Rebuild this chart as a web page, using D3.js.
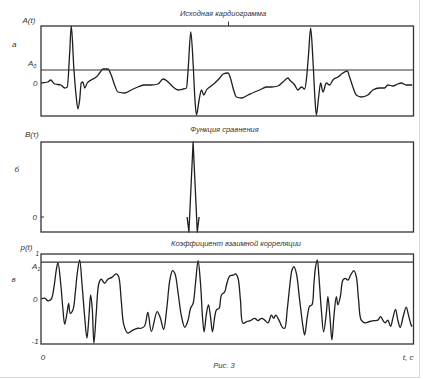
<!DOCTYPE html>
<html>
<head>
<meta charset="utf-8">
<script src="https://cdn.jsdelivr.net/npm/d3@7"></script>
<style>
  body { margin: 0; background: #fff; }
  svg text { font-family: "Liberation Sans", Arial, sans-serif; font-style: italic; fill: #333; }
</style>
</head>
<body>
<svg width="423" height="379"></svg>
<script>
// ---- data (t in plot units 0..373) ----
// a: original cardiogram
var ecgT = [0.3, 7, 9.7, 13.7, 20, 23.7, 26.3, 28.7, 30.3, 33, 35.3, 37, 38.7, 40.3, 42, 43.7, 46.3,
  50.3, 55.3, 58.7, 62, 67, 70.3, 73.7, 77, 83.7, 90.3, 97, 103.7, 110.3, 117, 122.3, 127.3, 132.3,
  137.3, 142.3, 145.7, 147.3, 150, 152.3, 154, 155.7, 158.3, 160.7, 163, 165.7, 169, 174, 179, 182.3,
  187.3, 189.7, 192.3, 195.7, 200.7, 207.3, 214, 219, 225.7, 230.7, 237.3, 242.3, 247.3, 249, 254,
  257.3, 260.7, 264, 265.7, 268, 270, 272.3, 274, 275.7, 278, 280, 282.3, 285.7, 289, 292.3, 297.3,
  302.3, 306.7, 309, 312.3, 315.7, 320.7, 327.3, 332.3, 339, 344, 347.3, 352.3, 357.3, 360.7, 365.7, 371.7];
var ecgV = [0, 1, 3, -1, -2, -5, -4, 30, 57, 13, -14, -26, -17, 0, 1, -5, 0,
  3, 6, 10, 14, 14, 8, -2, -9, -10, -7, -4, -2, -2, -1, 4, 1, -4,
  -7, -6, -5, 13, 51, 20, -14, -32, -17, -7, -12, -7, -4, 0, 5, 9,
  10, 5, -5, -14, -15, -12, -9, -7, -4, -4, -3, 1, 5, 3, -2,
  -7, -4, -6, 3, 30, 55, 23, -10, -32, -14, 0, -9, 0, -2, 3, 6,
  10, 12, 6, -4, -12, -14, -12, -7, -5, -5, -2, -3, -1, 0, -2, -2];
var A0 = 13;

// б: comparison function
var cmpT = [146.3, 148.1, 152.3, 156.5, 158.3];
var cmpV = [0, -15, 75, -15, 0];

// в: cross-correlation coefficient
var corT = [0.3, 3.7, 7, 10.3, 13, 15.3, 17, 19.7, 22, 23.7, 26, 27.7, 29.3, 32, 34.3, 36.3, 38.7,
  41, 43.7, 46, 48, 49.7, 51.3, 53, 55.3, 58, 60.3, 63.7, 67, 71, 75.3, 77.7, 80.3, 83, 87, 92, 97,
  100.3, 103.7, 107, 110.5, 116.3, 119.5, 122.8, 126, 129, 131.7, 134, 137.3, 140.7, 144, 147.3,
  149.7, 152.3, 154.7, 157.3, 159.7, 161.7, 163.3, 165.7, 167.7, 169.7, 171.7, 174, 175.7, 178.3,
  180.7, 184, 185.7, 189, 192.3, 195, 197.3, 199.7, 202.3, 206.3, 209.7, 214, 217.3, 220.7, 224,
  227.3, 230.7, 233, 235, 238.3, 241.7, 244, 246.5, 249, 251.3, 253.3, 255.7, 259, 262.3, 264,
  266.7, 269, 271.3, 273.3, 275, 276.7, 278.3, 280.7, 283, 285.7, 287.3, 289.3, 291.3, 293.3, 295.7,
  297.3, 299.7, 302.3, 304.7, 307.3, 310, 313.3, 315.7, 318, 320.7, 324.7, 329, 333.3, 337.3, 340,
  342.3, 344.7, 347.3, 350, 352.3, 355, 357.3, 359.7, 362.7, 365.7, 368, 370.7, 371.7];
var corV = [0, 0.02, -0.04, 0, 0.27, 0.64, 0.81, 0.35, -0.24, -0.56, -0.32, -0.1, -0.32, -0.24, 0.13, 0.57, 0.87,
  0.35, -0.39, -0.87, -0.39, 0.09, -0.21, -0.98, -0.32, 0.35, 0.44, 0.35, 0.44, 0.48, 0.56, 0.5, -0.02, -0.58, -0.76, -0.69, -0.65,
  -0.65, -0.6, -0.3, -0.72, -0.28, -0.42, -0.68, -0.2, 0.42, 0.63, 0.57, 0.13, -0.39, -0.63, -0.47,
  -0.21, -0.1, 0.35, 0.85, 0.35, -0.39, -0.73, -0.32, -0.13, -0.39, -0.73, -0.39, -0.24, -0.21,
  0.09, 0.16, 0.31, 0.51, 0.53, 0.56, 0.46, -0.02, -0.54, -0.5, -0.48, -0.43, -0.48, -0.43, -0.47,
  -0.53, -0.36, -0.43, -0.36, -0.47, -0.63, -0.65, -0.25, 0.27, 0.64, 0.72, 0.57, -0.02, -0.61, -0.8,
  -0.39, -0.16, -0.13, 0.35, 0.72, 0.87, 0.5, -0.24, -0.73, -0.32, 0.05, -0.39, -0.91, -0.39, 0.05,
  -0.13, 0.05, 0.42, 0.46, 0.42, 0.53, 0.63, 0.5, -0.02, -0.47, -0.53, -0.5, -0.48, -0.47, -0.39,
  -0.47, -0.53, -0.47, -0.61, -0.43, -0.23, -0.47, -0.63, -0.39, -0.18, -0.36, -0.58, -0.61];
var A1 = 0.82;

var titles = ["Исходная кардиограмма", "Функция сравнения", "Коэффициент взаимной корреляции"];

var svg = d3.select("svg");

// light page border on right and bottom
svg.append("line").attr("x1", 419.5).attr("x2", 419.5).attr("y1", 0).attr("y2", 377)
  .attr("stroke", "#d9d9d9");
svg.append("line").attr("x1", 0).attr("x2", 420).attr("y1", 377.5).attr("y2", 377.5)
  .attr("stroke", "#d9d9d9");

// shared time scale
var x = d3.scaleLinear().domain([0, 373]).range([41, 413.5]);

function zip(t, v) { return t.map(function(d, i) { return [d, v[i]]; }); }

function panel(top, bottom, domain, t, v, curve) {
  var y = d3.scaleLinear().domain(domain).range([bottom, top]);
  var line = d3.line()
    .x(function(d) { return x(d[0]); })
    .y(function(d) { return y(d[1]); })
    .curve(curve);
  svg.append("path")
    .datum(zip(t, v))
    .attr("d", line)
    .attr("fill", "none")
    .attr("stroke", "#1e1e1e")
    .attr("stroke-width", 1.3)
    .attr("stroke-linejoin", "round");
  svg.append("rect")
    .attr("x", x(0)).attr("y", top)
    .attr("width", x(373) - x(0)).attr("height", bottom - top)
    .attr("fill", "none").attr("stroke", "#333").attr("stroke-width", 1.3);
  return y;
}

function label(px, py, str, size, anchor) {
  return svg.append("text").attr("x", px).attr("y", py)
    .attr("font-size", size || 8)
    .attr("text-anchor", anchor || "start")
    .text(str);
}

// ---- panel a ----
var ya = panel(26, 116, [-33, 57], ecgT, ecgV, d3.curveMonotoneX);
svg.append("line").attr("x1", x(0)).attr("x2", x(373))
  .attr("y1", ya(A0)).attr("y2", ya(A0)).attr("stroke", "#333").attr("stroke-width", 1.2);
svg.append("line").attr("x1", 228.5).attr("x2", 228.5).attr("y1", 21.5).attr("y2", 26)
  .attr("stroke", "#333");
label(223, 15.5, titles[0], 7.5, "middle");
label(22.5, 22.5, "A(t)", 8);
label(12, 47, "а", 8);
var a0 = label(28, 66, "A", 8);
a0.append("tspan").attr("dy", 2).attr("font-size", 5.5).text("0");
label(33, ya(0) + 3, "0", 8);

// ---- panel б ----
var yb = panel(142, 232, [-15, 75], cmpT, cmpV, d3.curveLinear);
svg.append("line").attr("x1", x(0)).attr("x2", x(0) + 3).attr("y1", yb(0)).attr("y2", yb(0))
  .attr("stroke", "#333");
label(224.5, 131.5, titles[1], 7.5, "middle");
label(25, 137, "B(τ)", 8);
label(14.5, 172, "б", 8);
label(32.5, yb(0) + 3, "0", 8);

// ---- panel в ----
var yc = panel(254, 344, [-1, 1], corT, corV, d3.curveCatmullRom.alpha(0.5));
svg.append("line").attr("x1", x(0)).attr("x2", x(373))
  .attr("y1", yc(A1)).attr("y2", yc(A1)).attr("stroke", "#333").attr("stroke-width", 1.2);
label(236, 245.5, titles[2], 7.5, "middle");
label(20.5, 249.5, "p(t)", 8);
label(35.5, 256, "1", 6.5);
var a1 = label(32, 268.5, "A", 8);
a1.append("tspan").attr("dy", 2).attr("font-size", 5.5).text("1");
label(11.5, 282, "в", 8);
label(33, yc(0) + 3, "0", 8);
label(31.5, 344, "-1", 8);
label(x(0) + 2, 360, "0", 8, "middle");
label(413.5, 360, "t, c", 8, "end");
label(224, 368, "Рис. 3", 7.5, "middle");
</script>
</body>
</html>
